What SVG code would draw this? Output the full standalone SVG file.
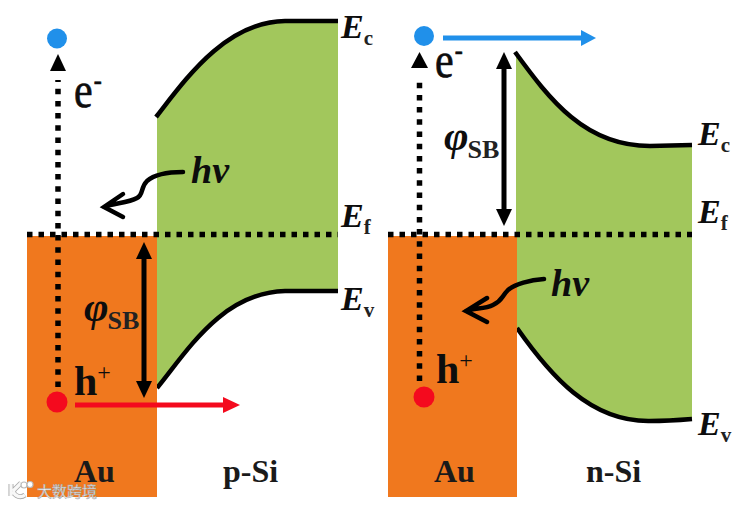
<svg xmlns="http://www.w3.org/2000/svg" width="739" height="505" viewBox="0 0 739 505">
<style>
text{font-family:"Liberation Serif","Times New Roman",serif;fill:#0d0d0d}
.b{font-weight:bold}
.i{font-style:italic;font-weight:bold}
.au{fill:#f0781e}
.si{fill:#a2c75c}
.band{fill:none;stroke:#000;stroke-width:4.5}
.dot{fill:none;stroke:#000;stroke-width:5.500}
.v{stroke-dasharray:5.500 6.700}
.h{stroke-dasharray:5.500 6}
.dbl{fill:none;stroke:#000;stroke-width:5}
.wig{fill:none;stroke:#000;stroke-width:4.500;stroke-linecap:round;stroke-linejoin:miter}
.E{font-size:34px}
.sub{font-size:21px;font-weight:bold;fill:#222}
.lab{font-size:32px;font-weight:bold;fill:#1a1a1a}
.car{font-size:42px;stroke:#0d0d0d;stroke-width:.6}
.phi{font-size:42px;font-style:italic;font-weight:bold}
.sb{font-size:26px;font-weight:bold;fill:#222}
.hv{font-size:38px}
.wm{font-family:"Noto Sans CJK SC",sans-serif;font-size:15px;fill:#f4f4f4;stroke:#a5a5a5;stroke-width:.5}
</style>
<defs>
<marker id="ak" markerUnits="userSpaceOnUse" markerWidth="18" markerHeight="18" refX="1" refY="8.500" orient="auto-start-reverse"><path d="M0 0.500L17 8.500L0 16.500Z" fill="#000"/></marker>
<marker id="ar" markerUnits="userSpaceOnUse" markerWidth="18" markerHeight="18" refX="1" refY="8.500" orient="auto"><path d="M0 0.500L17 8.500L0 16.500Z" fill="#f40a1e"/></marker>
<marker id="abl" markerUnits="userSpaceOnUse" markerWidth="18" markerHeight="18" refX="1" refY="8.500" orient="auto"><path d="M0 0.500L15 8.500L0 16.500Z" fill="#2090ea"/></marker>
</defs>

<g id="p-si-band">
<path class="si" d="M157 117C185 80 225 22 285 21L338 21V291H285C222 293 188 350 157 388Z"/>
<path class="band" d="M156 117C185 80 225 22 285 21L338 21"/>
<path class="band" d="M157 388C188 350 222 293 285 291L338 291"/>
</g>
<g id="au-left"><rect class="au" x="27" y="236" width="130" height="261"/></g>
<g id="n-si-band">
<path class="si" d="M516 52C550 100 585 146 650 146L692 145V418C680 420 665 422 650 421C590 422 550 375 516 328Z"/>
<path class="band" d="M515 52C550 100 585 146 650 146L692 145"/>
<path class="band" d="M517 328C550 375 590 422 650 421C665 421 680 420 692 419"/>
</g>
<g id="au-right"><rect class="au" x="388" y="236" width="129" height="261"/></g>

<g id="connectors">
<path class="dot v" d="M58 387V80"/>
<path d="M58 54L66 71H50Z"/>
<path class="dot h" d="M27 234.500H338"/>
<path class="dot v" d="M419.500 381V76"/>
<path d="M419.500 52L428 68H411Z"/>
<path class="dot h" d="M388 234.500H692"/>
<path class="dbl" d="M144 258V382" marker-start="url(#ak)" marker-end="url(#ak)"/>
<path class="dbl" d="M504 68V210" marker-start="url(#ak)" marker-end="url(#ak)"/>
<path d="M75 405H224" fill="none" stroke="#f40a1e" stroke-width="5" marker-end="url(#ar)"/>
<path d="M443 38H582" fill="none" stroke="#2090ea" stroke-width="5" marker-end="url(#abl)"/>
<path class="wig" d="M183 172C170 172 155 174 147 181C140 188 144 194 137 198C128 203 115 203 104 207M123 194L104 207L123 217"/>
<path class="wig" d="M544 279C530 280 515 284 508 290C501 297 503 300 493 305C485 309 475 308 466 311M487 298L466 311L487 322"/>
</g>

<g id="e-left"><circle cx="57" cy="38.500" r="10" fill="#2090ea"/><text class="car" transform="translate(74 107) scale(1 1.200)">e<tspan font-size="24" dy="-14" dx="1">-</tspan></text></g>
<g id="h-left"><circle cx="57" cy="402" r="10.500" fill="#f40a1e"/><text class="car b" x="74" y="395" style="stroke:none">h<tspan font-size="24" dy="-15" font-weight="normal">+</tspan></text></g>
<g id="e-right"><circle cx="424" cy="36" r="10" fill="#2090ea"/><text class="car" transform="translate(435 77) scale(1 1.200)">e<tspan font-size="24" dy="-14" dx="1">-</tspan></text></g>
<g id="h-right"><circle cx="424" cy="397" r="10.500" fill="#f40a1e"/><text class="car b" x="436" y="383" style="stroke:none">h<tspan font-size="24" dy="-15" font-weight="normal">+</tspan></text></g>

<g id="labels-left">
<text class="i hv" x="191" y="183">hv</text>
<text class="E" x="341" y="38"><tspan class="i">E</tspan><tspan class="sub" dy="7">c</tspan></text>
<text class="E" x="341" y="227"><tspan class="i">E</tspan><tspan class="sub" dy="7">f</tspan></text>
<text class="E" x="341" y="310"><tspan class="i">E</tspan><tspan class="sub" dy="7">v</tspan></text>
<text x="84" y="321"><tspan class="phi">φ</tspan><tspan class="sb" dy="8" dx="-1">SB</tspan></text>
<text class="lab" x="74" y="482">Au</text>
<text class="lab" x="223" y="482">p-Si</text>
</g>
<g id="labels-right">
<text class="i hv" x="551" y="296">hv</text>
<text class="E" x="698" y="145"><tspan class="i">E</tspan><tspan class="sub" dy="7">c</tspan></text>
<text class="E" x="698" y="223"><tspan class="i">E</tspan><tspan class="sub" dy="7">f</tspan></text>
<text class="E" x="698" y="435"><tspan class="i">E</tspan><tspan class="sub" dy="7">v</tspan></text>
<text x="444" y="150"><tspan class="phi">φ</tspan><tspan class="sb" dy="8" dx="-1">SB</tspan></text>
<text class="lab" x="434" y="482">Au</text>
<text class="lab" x="586" y="482">n-Si</text>
</g>
<g id="watermark">
<text class="wm" x="37" y="497">大数跨境</text>
<path d="M11 484V496M13 491L21 483M13 491C15 497 21 498 25 495" fill="none" stroke="#aaa" stroke-width="5"/>
<path d="M11 484V496M13 491L21 483M13 491C15 497 21 498 25 495" fill="none" stroke="#f8f8f8" stroke-width="3.200"/>
<circle cx="24" cy="485" r="3" fill="#fff" stroke="#bbb" stroke-width="1.200"/>
<circle cx="30" cy="484.500" r="3" fill="#fff" stroke="#bbb" stroke-width="1.200"/>
</g>
</svg>
